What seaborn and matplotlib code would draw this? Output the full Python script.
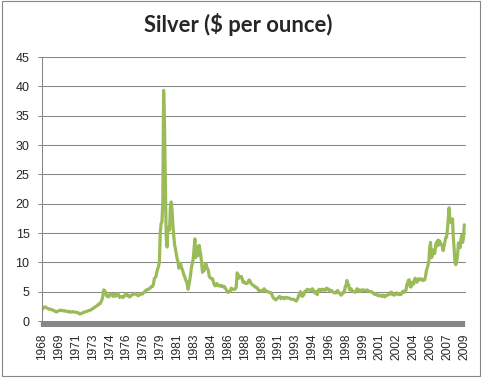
import numpy as np
import pandas as pd
import matplotlib
matplotlib.use("Agg")
import matplotlib.pyplot as plt
from matplotlib.patches import Rectangle
import seaborn as sns

# monthly silver price, $ per ounce (Jan 1968 onwards)
prices_1968_1979 = [
    1.9, 2.1, 2.3, 2.4, 2.4, 2.3, 2.2, 2.1, 2.1, 2.0, 2.0, 1.95,
    1.9, 1.85, 1.8, 1.7, 1.6, 1.55, 1.6, 1.7, 1.75, 1.8, 1.85, 1.8,
    1.8, 1.75, 1.7, 1.75, 1.7, 1.65, 1.6, 1.6, 1.65, 1.55, 1.5, 1.55,
    1.6, 1.55, 1.55, 1.5, 1.5, 1.45, 1.45, 1.4, 1.25, 1.2, 1.25, 1.3,
    1.4, 1.45, 1.5, 1.55, 1.6, 1.65, 1.7, 1.75, 1.8, 1.85, 1.9, 2.0,
    2.1, 2.2, 2.3, 2.4, 2.5, 2.6, 2.7, 2.9, 2.9, 3.0, 3.3, 3.6,
    4.2, 5.3, 5.2, 5.0, 4.5, 4.2, 4.4, 4.1, 4.4, 4.5, 4.6, 4.4,
    4.2, 4.5, 4.6, 4.2, 4.4, 4.7, 4.6, 4.3, 4.0, 4.1, 4.2, 4.1,
    4.0, 4.2, 4.4, 4.7, 4.6, 4.3, 4.4, 4.2, 4.1, 4.3, 4.4, 4.5,
    4.5, 4.6, 4.7, 4.6, 4.5, 4.4, 4.3, 4.4, 4.5, 4.6, 4.7, 4.6,
    4.8, 4.9, 5.1, 5.2, 5.3, 5.4, 5.4, 5.5, 5.6, 5.8, 5.9, 5.9,
    6.3, 7.2, 7.4, 7.6, 8.4, 8.9, 9.3, 10.1, 15.0, 16.6, 16.9, 20.0,
]
prices_1980s = [
    39.3, 34.0, 24.0, 14.5, 12.6, 15.8, 16.0, 15.5, 19.5, 20.3, 18.8, 16.3,
    14.5, 13.0, 12.3, 11.5, 10.6, 10.2, 9.0, 9.6, 9.8, 9.2, 8.8, 8.4,
    7.8, 7.6, 7.0, 6.8, 6.3, 5.4, 6.2, 7.0, 8.0, 9.2, 9.8, 10.6,
    12.3, 14.0, 10.8, 11.3, 12.6, 11.2, 12.9, 12.0, 11.2, 9.9, 8.3, 8.7,
    8.6, 9.4, 9.8, 9.2, 8.9, 8.6, 7.6, 7.4, 7.3, 7.2, 7.2, 6.6,
    6.2, 6.0, 6.2, 6.4, 6.1, 6.0, 6.0, 6.1, 5.9, 6.0, 5.9, 5.8,
    5.9, 5.6, 5.4, 5.1, 4.9, 4.9, 5.0, 5.1, 5.6, 5.5, 5.4, 5.4,
    5.4, 5.5, 5.8, 8.2, 8.0, 7.3, 7.6, 7.5, 7.6, 7.2, 6.6, 6.7,
    6.6, 6.4, 6.4, 6.4, 6.6, 7.0, 6.9, 6.6, 6.3, 6.2, 6.1, 6.0,
    5.8, 5.8, 5.7, 5.6, 5.3, 5.2, 5.2, 5.2, 5.1, 5.1, 5.3, 5.5,
]
prices_1990s = [
    5.2, 5.2, 5.0, 5.0, 5.0, 4.9, 4.8, 4.8, 4.6, 4.2, 3.9, 3.8,
    3.7, 3.6, 3.8, 3.9, 4.0, 4.2, 4.1, 3.8, 4.0, 4.0, 4.0, 3.8,
    4.0, 4.0, 4.0, 3.9, 3.9, 3.9, 3.8, 3.7, 3.7, 3.7, 3.7, 3.6,
    3.5, 3.4, 3.6, 3.9, 4.4, 4.4, 5.0, 4.8, 4.2, 4.3, 4.5, 5.0,
    5.1, 5.2, 5.4, 5.3, 5.3, 5.3, 5.2, 5.2, 5.5, 5.3, 5.1, 4.8,
    4.7, 5.0, 4.5, 5.2, 5.4, 5.1, 5.1, 5.4, 5.4, 5.3, 5.3, 5.2,
    5.5, 5.6, 5.5, 5.3, 5.4, 5.1, 5.1, 5.2, 5.0, 4.9, 4.8, 4.8,
    4.8, 5.1, 5.2, 4.8, 4.8, 4.7, 4.4, 4.5, 4.7, 5.0, 4.9, 5.9,
    6.0, 6.9, 6.1, 6.2, 5.3, 5.3, 5.5, 5.2, 5.1, 5.0, 5.0, 4.9,
    5.1, 5.5, 5.2, 5.1, 5.3, 5.0, 5.2, 5.3, 5.2, 5.3, 5.2, 5.2,
]
prices_2000s = [
    5.2, 5.3, 5.1, 5.1, 5.0, 5.0, 5.0, 4.9, 4.8, 4.6, 4.6, 4.5,
    4.6, 4.4, 4.3, 4.3, 4.4, 4.4, 4.2, 4.2, 4.4, 4.3, 4.1, 4.3,
    4.4, 4.4, 4.5, 4.5, 4.8, 4.9, 4.9, 4.5, 4.6, 4.4, 4.5, 4.6,
    4.8, 4.6, 4.5, 4.5, 4.7, 4.5, 4.8, 5.0, 5.1, 4.9, 5.1, 5.3,
    6.2, 6.5, 7.0, 7.0, 5.8, 5.8, 6.5, 6.6, 6.3, 7.1, 7.3, 6.8,
    6.6, 7.0, 7.2, 7.0, 7.1, 7.2, 7.0, 6.9, 7.0, 7.0, 7.5, 8.5,
    9.0, 9.5, 10.2, 12.5, 13.4, 10.8, 11.0, 12.1, 11.6, 11.5, 12.9, 13.4,
    12.8, 13.8, 13.0, 13.6, 13.2, 13.0, 12.7, 12.0, 12.8, 13.5, 14.2, 14.3,
    15.6, 17.5, 19.3, 17.2, 16.8, 17.0, 17.4, 14.2, 12.2, 9.9, 9.6, 10.2,
    11.2, 13.3, 13.0, 12.5, 14.0, 14.6, 13.4, 14.3, 16.4,
]

year_labels = ['1968', '1969', '1971', '1973', '1974', '1976', '1978', '1979',
               '1981', '1983', '1984', '1986', '1988', '1989', '1991', '1993',
               '1994', '1996', '1998', '1999', '2001', '2002', '2004', '2006',
               '2007', '2009']
label_step = 20

prices = prices_1968_1979 + prices_1980s + prices_1990s + prices_2000s
df = pd.DataFrame({'month': np.arange(len(prices)), 'price': prices})

sns.set_style("white")
plt.rcParams['font.family'] = ['Liberation Sans', 'DejaVu Sans']

grey = '#868686'
fig = plt.figure(figsize=(4.82, 3.78), dpi=100)
ax = fig.add_axes([42 / 482, 1 - 321 / 378, 424 / 482, 264 / 378])

sns.lineplot(data=df, x='month', y='price', ax=ax, color='#9BBB59',
             linewidth=2.3, solid_joinstyle='round')

ax.set_xlim(0, len(prices) + 1)
ax.set_ylim(0, 45)
ax.set_yticks(np.arange(0, 46, 5))
ax.yaxis.grid(True, color=grey, linewidth=0.75)
ax.set_axisbelow(True)

# one tick per month -> dense ticks make the solid grey band under the axis
ax.set_xticks(np.arange(len(year_labels)) * label_step)
ax.set_xticklabels(year_labels, rotation=90, fontsize=8.6)
ax.set_xticks(np.arange(len(prices)), minor=True)
ax.tick_params(axis='x', which='both', direction='out', length=4, width=1.6,
               color=grey, bottom=True, pad=5)
ax.tick_params(axis='y', direction='out', length=3, width=0.75, color=grey,
               left=True, labelsize=9, pad=6)

for side in ['top', 'right', 'bottom']:
    ax.spines[side].set_visible(False)
ax.spines['left'].set_color(grey)
ax.spines['left'].set_linewidth(0.75)
ax.set_xlabel('')
ax.set_ylabel('')

fig.text(238.5 / 482, 1 - 32 / 378, 'Silver ($ per ounce)', ha='center',
         va='baseline', fontsize=15.8, fontweight='bold', family=['Lato', 'DejaVu Sans'])

fig.patches.append(Rectangle((1.5 / 482, 2 / 378), 478.5 / 482, 375 / 378,
                             transform=fig.transFigure, fill=False,
                             edgecolor=grey, linewidth=0.8))

fig.savefig('out.png', dpi=100)
